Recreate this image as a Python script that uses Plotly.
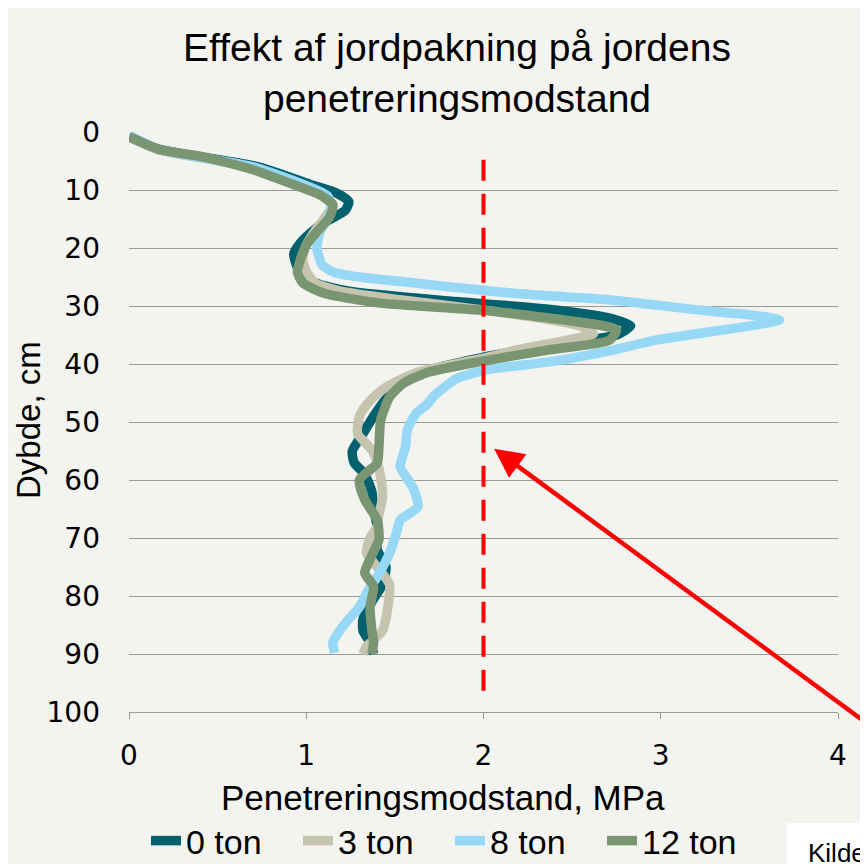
import plotly.graph_objects as go

# ---- data ----
series_names = ["0 ton", "3 ton", "8 ton", "12 ton"]
series_colors = ["#00616e", "#c5c4ae", "#97d8f6", "#7a9571"]

depth_0 = [0.8, 3, 6, 9, 10.5, 12, 13.5, 16, 19, 21, 24, 26, 27.5, 29, 30.5, 32, 33.4, 35, 36.5,
           38.5, 41, 43, 46, 49, 52, 55, 57, 59, 62, 65, 68, 72, 75, 78, 81, 84, 86, 88, 90]
mpa_0 = [0, 0.17, 0.73, 1.02, 1.17, 1.24, 1.22, 1.08, 0.97, 0.93, 0.96, 1.05, 1.25, 1.75, 2.35, 2.70,
         2.83, 2.75, 2.45, 2.05, 1.70, 1.55, 1.45, 1.38, 1.32, 1.26, 1.27, 1.33, 1.37, 1.38, 1.40,
         1.40, 1.45, 1.43, 1.37, 1.32, 1.32, 1.36, 1.38]

depth_3 = [0.8, 3, 6, 9, 11, 12.5, 15, 17, 19.5, 22, 24, 26, 27.5, 29, 30.5, 32, 33.5, 34.8, 36,
           37.5, 39, 41.5, 44, 46, 47.4, 49, 52, 54.8, 57, 59.5, 63, 66, 68, 70, 72.6, 75, 78, 82,
           86, 88.7, 90]
mpa_3 = [0, 0.16, 0.68, 0.95, 1.10, 1.15, 1.10, 1.05, 1.00, 0.98, 1.00, 1.05, 1.20, 1.55, 1.95, 2.30,
         2.55, 2.62, 2.45, 2.20, 2.00, 1.62, 1.45, 1.37, 1.33, 1.30, 1.29, 1.37, 1.40, 1.42, 1.43,
         1.41, 1.40, 1.36, 1.34, 1.40, 1.47, 1.46, 1.43, 1.34, 1.32]

depth_8 = [0.5, 3, 6, 9, 11, 13, 15, 17, 20, 22.9, 24.1, 25, 26, 27.8, 29, 30.7, 31.7, 32.4, 33.2,
           34.7, 36, 37.6, 39.5, 41, 42.5, 44, 45.5, 47, 48.5, 51.4, 54.3, 57.7, 61.2, 64.6, 66.9,
           69, 72.6, 76.7, 79, 81.9, 84, 85.9, 88, 89.8]
mpa_8 = [0, 0.17, 0.70, 0.98, 1.12, 1.14, 1.12, 1.08, 1.06, 1.09, 1.15, 1.30, 1.60, 2.17, 2.73, 3.22,
         3.55, 3.67, 3.55, 3.22, 2.95, 2.73, 2.40, 2.02, 1.85, 1.78, 1.72, 1.68, 1.62, 1.57, 1.56,
         1.53, 1.60, 1.63, 1.53, 1.51, 1.47, 1.40, 1.35, 1.30, 1.24, 1.19, 1.15, 1.16]

depth_12 = [0.8, 3, 4.3, 6.5, 9.1, 10.9, 12.6, 14.8, 17.2, 19.5, 21.7, 24.1, 26, 27.8, 29.5, 30.7,
            32.4, 34.1, 35.9, 37.6, 39.6, 41.5, 43.3, 45.7, 49.7, 54.3, 57.1, 60, 63.4, 66.9, 70.3,
            73, 76, 78.4, 81.9, 85.9, 88, 90]
mpa_12 = [0, 0.17, 0.42, 0.70, 0.93, 1.08, 1.15, 1.13, 1.06, 1.00, 0.97, 0.95, 0.98, 1.10, 1.42,
          1.98, 2.45, 2.75, 2.71, 2.36, 1.98, 1.68, 1.55, 1.47, 1.42, 1.41, 1.40, 1.30, 1.33, 1.40,
          1.41, 1.37, 1.33, 1.38, 1.36, 1.37, 1.38, 1.37]

depths = [depth_0, depth_3, depth_8, depth_12]
values = [mpa_0, mpa_3, mpa_8, mpa_12]

threshold_mpa = 2
threshold_depth = [4.8, 97.6]
arrow_head = (2.06, 54.6)
arrow_tail = (4.29, 104.8)

x_ticks = [0, 1, 2, 3, 4]
y_ticks = list(range(0, 101, 10))

title_text = "Effekt af jordpakning på jordens<br>penetreringsmodstand"
x_title = "Penetreringsmodstand, MPa"
y_title = "Dybde, cm"
source_text = "Kilde"

BG = "#f3f3ef"
OFF = 8                      # page body margin
W, H = 860, 856
L, R, T, B = 121, 30, 124, 152
pw, ph = W - L - R, H - T - B


def px_x(page_x):
    return (page_x - OFF - L) / pw


def px_y(page_y):
    return (H - B - (page_y - OFF)) / ph


fig = go.Figure()
for name, color, d, v in zip(series_names, series_colors, depths, values):
    fig.add_trace(go.Scatter(
        x=v, y=d, mode="lines", name=name,
        line=dict(color=color, width=9.5, shape="spline", smoothing=0.6),
    ))

# dashed threshold line
fig.add_shape(type="line", xref="x", yref="y",
              x0=threshold_mpa, x1=threshold_mpa, y0=threshold_depth[0], y1=threshold_depth[1],
              line=dict(color="#ff0000", width=4, dash="21px,13px"))

# source box
fig.add_shape(type="rect", xref="paper", yref="paper",
              x0=px_x(787), x1=px_x(880), y0=px_y(880), y1=px_y(823),
              fillcolor="white", line=dict(width=0))

fig.add_annotation(x=arrow_head[0], y=arrow_head[1], ax=arrow_tail[0], ay=arrow_tail[1],
                   xref="x", yref="y", axref="x", ayref="y", text="",
                   showarrow=True, arrowhead=2, arrowsize=1.3, arrowwidth=4.5,
                   arrowcolor="#ff0000")

fig.add_annotation(x=px_x(443), y=px_y(797), xref="paper", yref="paper",
                   text=x_title, showarrow=False, xanchor="center", yanchor="middle",
                   font=dict(family="Liberation Sans, Arial", size=35, color="#000"))
fig.add_annotation(x=px_x(28), y=px_y(420), xref="paper", yref="paper",
                   text=y_title, showarrow=False, textangle=-90, xanchor="center", yanchor="middle",
                   font=dict(family="Liberation Sans, Arial", size=33, color="#000"))
fig.add_annotation(x=px_x(806), y=px_y(853), xref="paper", yref="paper",
                   text=source_text, showarrow=False, xanchor="left", yanchor="middle",
                   font=dict(family="Liberation Sans, Arial", size=26, color="#000"))

fig.update_layout(
    width=W, height=H,
    margin=dict(l=L, r=R, t=T, b=B, pad=0),
    paper_bgcolor=BG, plot_bgcolor=BG,
    title=dict(text=title_text, x=(457 - OFF) / W, xanchor="center",
               y=1 - 53 / H, yanchor="top", xref="container", yref="container",
               font=dict(family="Liberation Sans, Arial", size=39, color="#000")),
    showlegend=True,
    legend=dict(orientation="h", xref="container", yref="container",
                x=(146 - OFF) / W, y=1 - (812 - OFF) / H, xanchor="left", yanchor="top",
                font=dict(family="Liberation Sans, Arial", size=34, color="#000"),
                bgcolor="rgba(0,0,0,0)", itemwidth=30, tracegroupgap=0,
                entrywidth=107, entrywidthmode="pixels"),
    xaxis=dict(range=[0, 4], tickvals=x_ticks, showgrid=False, zeroline=False,
               showline=True, linecolor="#9a9a9a", linewidth=1.3,
               ticks="outside", ticklen=6, tickcolor="#9a9a9a", tickwidth=1.3,
               ticklabelstandoff=12,
               tickfont=dict(family="DejaVu Sans", size=28, color="#000")),
    yaxis=dict(range=[100, 0], tickvals=y_ticks, showgrid=True, gridcolor="#9a9a9a", gridwidth=1.3,
               zeroline=False, showline=False, ticks="",
               ticklabelstandoff=28,
               tickfont=dict(family="DejaVu Sans", size=28, color="#000")),
)

fig.write_html("out.html")
